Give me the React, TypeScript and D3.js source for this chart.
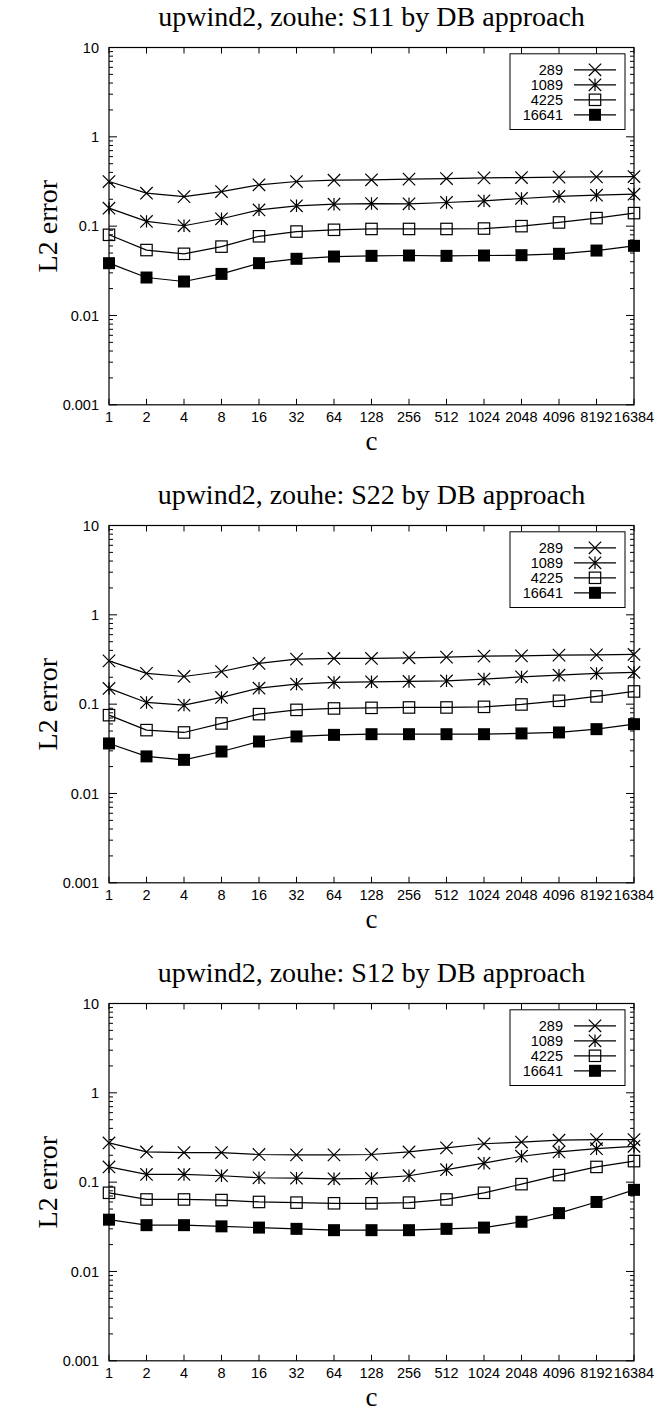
import React from "react";
import * as d3 from "d3";

const categories = ["1", "2", "4", "8", "16", "32", "64", "128", "256", "512", "1024", "2048", "4096", "8192", "16384"];
const seriesNames = ["289", "1089", "4225", "16641"];
const yTickValues = [0.001, 0.01, 0.1, 1, 10];
const yTickLabels = ["0.001", "0.01", "0.1", "1", "10"];

const titles = [
  "upwind2, zouhe: S11 by DB approach",
  "upwind2, zouhe: S22 by DB approach",
  "upwind2, zouhe: S12 by DB approach",
];

const s11_289 = [0.316, 0.234, 0.214, 0.244, 0.29, 0.316, 0.327, 0.33, 0.336, 0.341, 0.347, 0.35, 0.354, 0.356, 0.359];
const s11_1089 = [0.159, 0.113, 0.101, 0.121, 0.152, 0.169, 0.176, 0.179, 0.178, 0.184, 0.192, 0.204, 0.215, 0.222, 0.228];
const s11_4225 = [0.08, 0.054, 0.049, 0.059, 0.077, 0.087, 0.091, 0.093, 0.093, 0.093, 0.094, 0.1, 0.11, 0.123, 0.14];
const s11_16641 = [0.0385, 0.0266, 0.024, 0.0292, 0.0385, 0.0431, 0.0457, 0.0465, 0.0469, 0.0465, 0.0469, 0.0473, 0.049, 0.0533, 0.0602];

const s22_289 = [0.305, 0.221, 0.204, 0.232, 0.286, 0.319, 0.325, 0.325, 0.33, 0.336, 0.345, 0.347, 0.354, 0.356, 0.36];
const s22_1089 = [0.15, 0.1045, 0.0975, 0.119, 0.151, 0.1675, 0.175, 0.178, 0.1795, 0.182, 0.191, 0.202, 0.211, 0.221, 0.2265];
const s22_4225 = [0.0753, 0.0512, 0.0482, 0.0608, 0.0773, 0.0863, 0.0895, 0.0909, 0.0918, 0.0918, 0.0933, 0.0992, 0.109, 0.122, 0.1387];
const s22_16641 = [0.0363, 0.026, 0.0238, 0.0295, 0.0382, 0.0435, 0.0453, 0.0461, 0.0461, 0.0461, 0.0461, 0.047, 0.0482, 0.0525, 0.0597];

const s12_289 = [0.275, 0.218, 0.2145, 0.2145, 0.204, 0.202, 0.202, 0.204, 0.218, 0.242, 0.269, 0.281, 0.295, 0.3, 0.3];
const s12_1089 = [0.148, 0.122, 0.122, 0.118, 0.112, 0.111, 0.109, 0.11, 0.118, 0.138, 0.163, 0.195, 0.218, 0.237, 0.252];
const s12_4225 = [0.076, 0.064, 0.064, 0.063, 0.06, 0.059, 0.058, 0.058, 0.059, 0.064, 0.076, 0.095, 0.12, 0.148, 0.172];
const s12_16641 = [0.038, 0.033, 0.033, 0.032, 0.031, 0.03, 0.029, 0.029, 0.029, 0.03, 0.031, 0.036, 0.045, 0.06, 0.082];

const panels = [
  [s11_289, s11_1089, s11_4225, s11_16641],
  [s22_289, s22_1089, s22_4225, s22_16641],
  [s12_289, s12_1089, s12_4225, s12_16641],
];

const W = 657;
const H = 1412;
const LEFT = 109;
const RIGHT = 634;
const TOP0 = 47.5;
const PITCH = 478;
const PH = 357.3;
const SANS = "'Liberation Sans', Arial, sans-serif";
const SERIF = "'Liberation Serif', 'Times New Roman', serif";

function Marker({ kind, x, y }: { kind: number; x: number; y: number }) {
  const r = 6.2;
  const s = 5.7;
  if (kind === 0) {
    return <path d={`M${x - r},${y - r}L${x + r},${y + r}M${x - r},${y + r}L${x + r},${y - r}`} stroke="#000" strokeWidth={1.2} fill="none" />;
  }
  if (kind === 1) {
    return (
      <path
        d={`M${x - r},${y - r}L${x + r},${y + r}M${x - r},${y + r}L${x + r},${y - r}M${x},${y - r}L${x},${y + r}`}
        stroke="#000"
        strokeWidth={1.2}
        fill="none"
      />
    );
  }
  if (kind === 2) {
    return <rect x={x - s} y={y - s} width={2 * s} height={2 * s} stroke="#000" strokeWidth={1.2} fill="none" />;
  }
  return <rect x={x - s - 0.3} y={y - s - 0.3} width={2 * s + 0.6} height={2 * s + 0.6} fill="#000" />;
}

function Panel({ index }: { index: number }) {
  const top = TOP0 + index * PITCH;
  const bottom = top + PH;
  const x = d3.scalePoint<string>().domain(categories).range([LEFT, RIGHT]);
  const y = d3.scaleLog().domain([0.001, 10]).range([bottom, top]);
  const line = d3
    .line<number>()
    .x((_, i) => x(categories[i]) as number)
    .y((v) => y(v));

  const minor: number[] = [];
  for (let e = -3; e < 1; e++) {
    for (let k = 2; k <= 9; k++) minor.push(k * Math.pow(10, e));
  }

  const data = panels[index];
  const legendTop = top + 6.3;
  const rowY = (i: number) => top + 22.3 + i * 15;

  return (
    <g>
      <text x={(LEFT + RIGHT) / 2} y={top - 21.5} textAnchor="middle" fontFamily={SERIF} fontSize={28}>
        {titles[index]}
      </text>
      <text
        transform={`translate(57,${(top + bottom) / 2}) rotate(-90)`}
        textAnchor="middle"
        fontFamily={SERIF}
        fontSize={28}
      >
        L2 error
      </text>
      <text x={(LEFT + RIGHT) / 2} y={bottom + 45} textAnchor="middle" fontFamily={SERIF} fontSize={27}>
        c
      </text>

      {/* y ticks: decades and log minor ticks, mirrored on the right */}
      {yTickValues.map((v, i) => (
        <g key={`yt${i}`}>
          <line x1={LEFT} x2={LEFT + 8} y1={y(v)} y2={y(v)} stroke="#000" strokeWidth={1} />
          <line x1={RIGHT} x2={RIGHT - 8} y1={y(v)} y2={y(v)} stroke="#000" strokeWidth={1} />
          <text x={LEFT - 10} y={y(v)} dy="0.35em" textAnchor="end" fontFamily={SANS} fontSize={14.5}>
            {yTickLabels[i]}
          </text>
        </g>
      ))}
      {minor.map((v, i) => (
        <g key={`ym${i}`}>
          <line x1={LEFT} x2={LEFT + 4} y1={y(v)} y2={y(v)} stroke="#000" strokeWidth={1} />
          <line x1={RIGHT} x2={RIGHT - 4} y1={y(v)} y2={y(v)} stroke="#000" strokeWidth={1} />
        </g>
      ))}

      {/* x ticks, mirrored on top */}
      {categories.map((c) => (
        <g key={`xt${c}`}>
          <line x1={x(c)} x2={x(c)} y1={bottom} y2={bottom - 6} stroke="#000" strokeWidth={1} />
          <line x1={x(c)} x2={x(c)} y1={top} y2={top + 6} stroke="#000" strokeWidth={1} />
          <text x={x(c)} y={bottom + 17.5} textAnchor="middle" fontFamily={SANS} fontSize={14.5}>
            {c}
          </text>
        </g>
      ))}

      <rect x={LEFT} y={top} width={RIGHT - LEFT} height={PH} fill="none" stroke="#000" strokeWidth={1.2} />

      {data.map((vals, si) => (
        <g key={`s${si}`}>
          <path d={line(vals) || ""} fill="none" stroke="#000" strokeWidth={1.2} />
          {vals.map((v, i) => (
            <Marker key={i} kind={si} x={x(categories[i]) as number} y={y(v)} />
          ))}
        </g>
      ))}

      {/* legend */}
      <rect x={510} y={legendTop} width={115} height={75.7} fill="#fff" stroke="#000" strokeWidth={1} />
      {seriesNames.map((n, i) => (
        <g key={`lg${i}`}>
          <text x={563} y={rowY(i)} dy="0.35em" textAnchor="end" fontFamily={SANS} fontSize={14.5}>
            {n}
          </text>
          <line x1={574} x2={616} y1={rowY(i)} y2={rowY(i)} stroke="#000" strokeWidth={1.2} />
          <Marker kind={i} x={595} y={rowY(i)} />
        </g>
      ))}
    </g>
  );
}

export default function App() {
  return (
    <svg
      width={W}
      height={H}
      viewBox={`0 0 ${W} ${H}`}
      style={{ position: "absolute", left: 0, top: 0, background: "#fff" }}
    >
      <rect width={W} height={H} fill="#fff" />
      {[0, 1, 2].map((i) => (
        <Panel key={i} index={i} />
      ))}
    </svg>
  );
}
